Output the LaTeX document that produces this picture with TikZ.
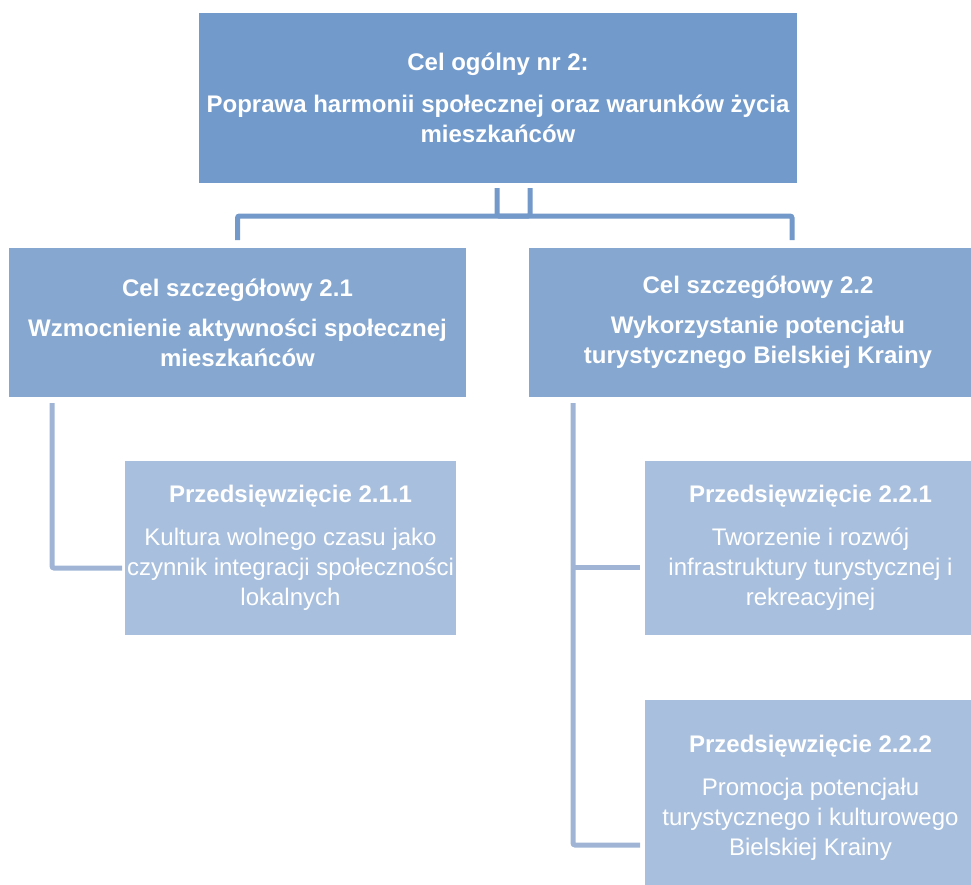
\documentclass[tikz,border=0pt]{standalone}
\usepackage{fontspec}
\setmainfont{Liberation Sans}
\usetikzlibrary{calc}
\definecolor{topfill}{RGB}{114,155,204}
\definecolor{midfill}{RGB}{133,167,208}
\definecolor{subfill}{RGB}{168,192,222}
\definecolor{connA}{RGB}{115,152,202}
\definecolor{connB}{RGB}{160,181,214}
\tikzset{
  box/.style={anchor=north west, inner sep=0pt, outer sep=0pt, align=center,
    text=white, font=\fontsize{24}{30}\selectfont},
  topbox/.style={box, fill=topfill, font=\bfseries\fontsize{24}{30}\selectfont},
  midbox/.style={box, fill=midfill, font=\bfseries\fontsize{24}{30}\selectfont},
  subbox/.style={box, fill=subfill},
  connone/.style={draw=connA, line width=5pt, rounded corners=2pt},
  conntwo/.style={draw=connB, line width=5pt, rounded corners=2pt},
}
\begin{document}
\begin{tikzpicture}[x=1pt,y=-1pt]
\useasboundingbox (0,0) rectangle (971,884);
\node[topbox, minimum width=598pt, minimum height=170pt] (top) at (199,13)
  {Cel ogólny nr 2:\\[12pt]Poprawa harmonii społecznej oraz warunków życia\\mieszkańców};
\node[midbox, minimum width=457pt, minimum height=149pt] (ca) at (9,248)
  {Cel szczegółowy 2.1\\[10pt]Wzmocnienie aktywności społecznej\\mieszkańców};
\node[midbox, minimum width=458pt, minimum height=149pt] (cb) at (529,248)
  {Cel szczegółowy 2.2\\[10pt]Wykorzystanie potencjału\\turystycznego Bielskiej Krainy};
\node[subbox, minimum width=331pt, minimum height=174pt] (pa) at (125,461)
  {\textbf{Przedsięwzięcie 2.1.1}\\[13pt]Kultura wolnego czasu jako\\czynnik integracji społeczności\\lokalnych};
\node[subbox, minimum width=331pt, minimum height=174pt] (pb) at (645,461)
  {\textbf{Przedsięwzięcie 2.2.1}\\[13pt]Tworzenie i rozwój\\infrastruktury turystycznej i\\rekreacyjnej};
\node[subbox, minimum width=331pt, minimum height=196pt] (pc) at (645,700)
  {\textbf{Przedsięwzięcie 2.2.2}\\[13pt]Promocja potencjału\\turystycznego i kulturowego\\Bielskiej Krainy};
% top connectors
\coordinate (ua) at ($(top.south)+(-1,5)$);
\coordinate (ub) at ($(top.south)+(32,5)$);
\coordinate (hy) at ($(top.south)+(0,33)$);
\coordinate (ea) at ($(ca.north)+(0,-8)$);
\coordinate (eb) at ($(cb.north)+(34,-8)$);
\draw[connone] (ua) -- (ua |- hy) -- (ub |- hy) -- (ub);
\draw[connone] (ea) |- (hy) -| (eb);
% lower connectors
\coordinate (la) at ($(ca.south)+(-185.5,6)$);
\coordinate (lae) at ($(pa.west)+(-3,20)$);
\draw[conntwo] (la) |- (lae);
\coordinate (lb) at ($(cb.south)+(-185,6)$);
\coordinate (lbe) at ($(pb.west)+(-5,19)$);
\coordinate (lce) at ($(pc.west)+(-5,47)$);
\draw[conntwo] (lb) |- (lce);
\draw[conntwo] (lb |- lbe) -- (lbe);
\end{tikzpicture}
\end{document}
